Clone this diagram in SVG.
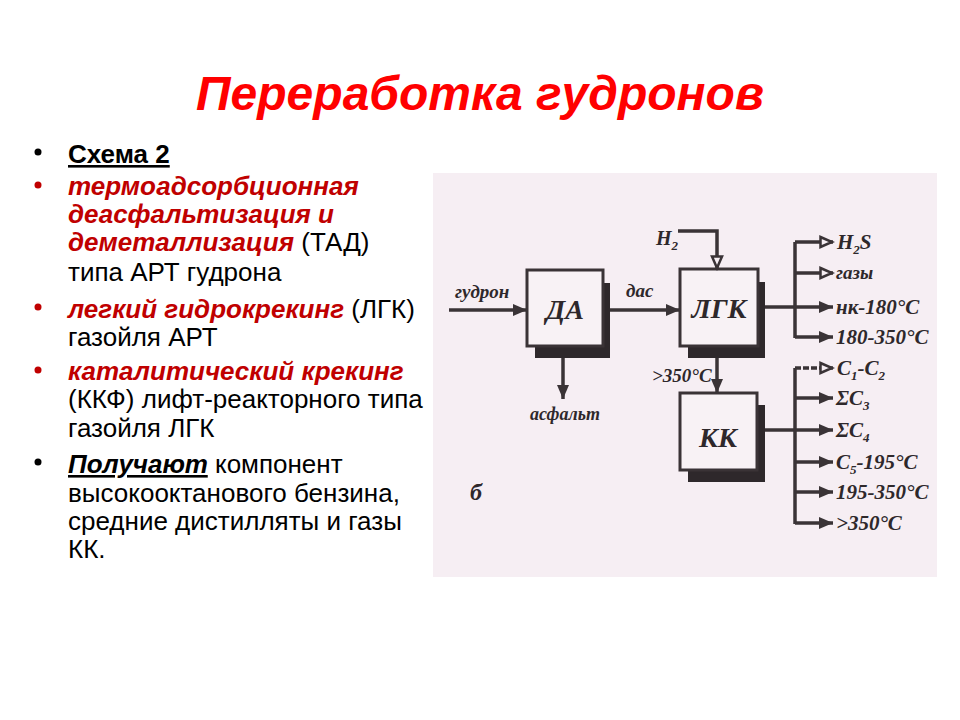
<svg xmlns="http://www.w3.org/2000/svg" width="960" height="720" viewBox="0 0 960 720">
<style>
.t{font-family:"Liberation Sans",Arial,sans-serif;font-size:26px;fill:#000}
.r{fill:#c00000;font-weight:bold;font-style:italic}
.title{font-family:"Liberation Sans",Arial,sans-serif;font-size:48px;font-weight:bold;font-style:italic;fill:#ff0000}
.d{font-family:"Liberation Serif","Times New Roman",serif;font-weight:bold;font-style:italic;fill:#2e282b}
.ln{fill:none;stroke:#3a3336;stroke-width:3.5}
.box{fill:#f8f2f5;stroke:#3a3336;stroke-width:3}
.sh{fill:#2e282b}
</style>
<defs>
<marker id="af" markerUnits="userSpaceOnUse" markerWidth="16" markerHeight="14" refX="14" refY="7" orient="auto">
<path d="M0,1 L14,7 L0,13 Z" fill="#3a3336"/>
</marker>
<marker id="ao" markerUnits="userSpaceOnUse" markerWidth="16" markerHeight="14" refX="14" refY="7" orient="auto">
<path d="M1.5,2 L13,7 L1.5,12 Z" fill="#f6eef3" stroke="#3a3336" stroke-width="2.5"/>
</marker>
</defs>
<rect width="960" height="720" fill="#ffffff"/>
<text class="title" x="480" y="110" text-anchor="middle">Переработка гудронов</text>

<g id="bullets">
<circle cx="38" cy="152" r="3.5" fill="#000"/>
<circle cx="38" cy="185" r="3.5" fill="#c00000"/>
<circle cx="38" cy="307" r="3.5" fill="#c00000"/>
<circle cx="38" cy="370" r="3.5" fill="#c00000"/>
<circle cx="38" cy="462" r="3.5" fill="#000"/>
</g>
<g id="text-left">
<text class="t" x="68" y="163" font-weight="bold" text-decoration="underline">Схема 2</text>
<text class="t" x="68" y="195"><tspan class="r">термоадсорбционная</tspan></text>
<text class="t" x="68" y="223"><tspan class="r">деасфальтизация и</tspan></text>
<text class="t" x="68" y="251"><tspan class="r">деметаллизация</tspan> (ТАД)</text>
<text class="t" x="68" y="281">типа АРТ гудрона</text>
<text class="t" x="68" y="318"><tspan class="r">легкий гидрокрекинг</tspan> (ЛГК)</text>
<text class="t" x="68" y="346">газойля АРТ</text>
<text class="t" x="68" y="380"><tspan class="r">каталитический крекинг</tspan></text>
<text class="t" x="68" y="408">(ККФ) лифт-реакторного типа</text>
<text class="t" x="68" y="437">газойля ЛГК</text>
<text class="t" x="68" y="473"><tspan font-weight="bold" font-style="italic" text-decoration="underline">Получают</tspan> компонент</text>
<text class="t" x="68" y="502">высокооктанового бензина,</text>
<text class="t" x="68" y="530">средние дистилляты и газы</text>
<text class="t" x="68" y="558">КК.</text>
</g>

<rect x="433" y="173" width="504" height="404" fill="#f6eef3"/>

<g id="node-DA">
<rect class="sh" x="535" y="283" width="75" height="75"/>
<rect class="box" x="527" y="270" width="76" height="76"/>
<text class="d" x="565" y="319" font-size="28" text-anchor="middle">ДА</text>
</g>
<g id="node-LGK">
<rect class="sh" x="688" y="282" width="77" height="76"/>
<rect class="box" x="680" y="269" width="78" height="77"/>
<text class="d" x="719" y="318" font-size="28" text-anchor="middle">ЛГК</text>
</g>
<g id="node-KK">
<rect class="sh" x="688" y="405" width="77" height="77"/>
<rect class="box" x="680" y="393" width="77" height="77"/>
<text class="d" x="718" y="447" font-size="28" text-anchor="middle">КК</text>
</g>

<g id="connectors">
<path class="ln" d="M449 310 H527" marker-end="url(#af)"/>
<path class="ln" d="M610 310 H680" marker-end="url(#af)"/>
<path class="ln" d="M678 231 H717 V269" marker-end="url(#ao)"/>
<path class="ln" d="M563 358 V399" marker-end="url(#af)"/>
<path class="ln" d="M717 358 V393" marker-end="url(#af)"/>
<path class="ln" d="M765 307 H795"/>
<path class="ln" d="M795 242 V338"/>
<path class="ln" d="M795 242 H833" marker-end="url(#ao)"/>
<path class="ln" d="M795 273 H833" marker-end="url(#ao)"/>
<path class="ln" d="M795 307 H833" marker-end="url(#af)"/>
<path class="ln" d="M795 337 H833" marker-end="url(#af)"/>
<path class="ln" d="M765 430 H795"/>
<path class="ln" d="M795 368 V524"/>
<path class="ln" d="M795 368 H833" stroke-dasharray="6 2" marker-end="url(#ao)"/>
<path class="ln" d="M795 398 H833" marker-end="url(#af)"/>
<path class="ln" d="M795 430 H833" marker-end="url(#af)"/>
<path class="ln" d="M795 462 H833" marker-end="url(#af)"/>
<path class="ln" d="M795 492 H833" marker-end="url(#af)"/>
<path class="ln" d="M795 523 H833" marker-end="url(#af)"/>
</g>

<g id="labels">
<text class="d" x="455" y="298" font-size="19">гудрон</text>
<text class="d" x="626" y="297" font-size="19">дас</text>
<text class="d" x="656" y="245" font-size="20">H<tspan font-size="13" dy="5">2</tspan></text>
<text class="d" x="652" y="382" font-size="19">&gt;350°C</text>
<text class="d" x="565" y="420" font-size="18" text-anchor="middle">асфальт</text>
<text class="d" x="470" y="500" font-size="24">б</text>
<text class="d" x="837" y="249" font-size="21">H<tspan font-size="13" dy="5">2</tspan><tspan dy="-5">S</tspan></text>
<text class="d" x="836" y="279" font-size="19">газы</text>
<text class="d" x="836" y="314" font-size="21">нк-180°C</text>
<text class="d" x="836" y="344" font-size="21">180-350°C</text>
<text class="d" x="837" y="375" font-size="21">C<tspan font-size="13" dy="5">1</tspan><tspan dy="-5">-C</tspan><tspan font-size="13" dy="5">2</tspan></text>
<text class="d" x="836" y="405" font-size="21">ΣC<tspan font-size="13" dy="5">3</tspan></text>
<text class="d" x="836" y="437" font-size="21">ΣC<tspan font-size="13" dy="5">4</tspan></text>
<text class="d" x="836" y="469" font-size="21">C<tspan font-size="13" dy="5">5</tspan><tspan dy="-5">-195°C</tspan></text>
<text class="d" x="836" y="499" font-size="21">195-350°C</text>
<text class="d" x="836" y="530" font-size="21">&gt;350°C</text>
</g>
</svg>
